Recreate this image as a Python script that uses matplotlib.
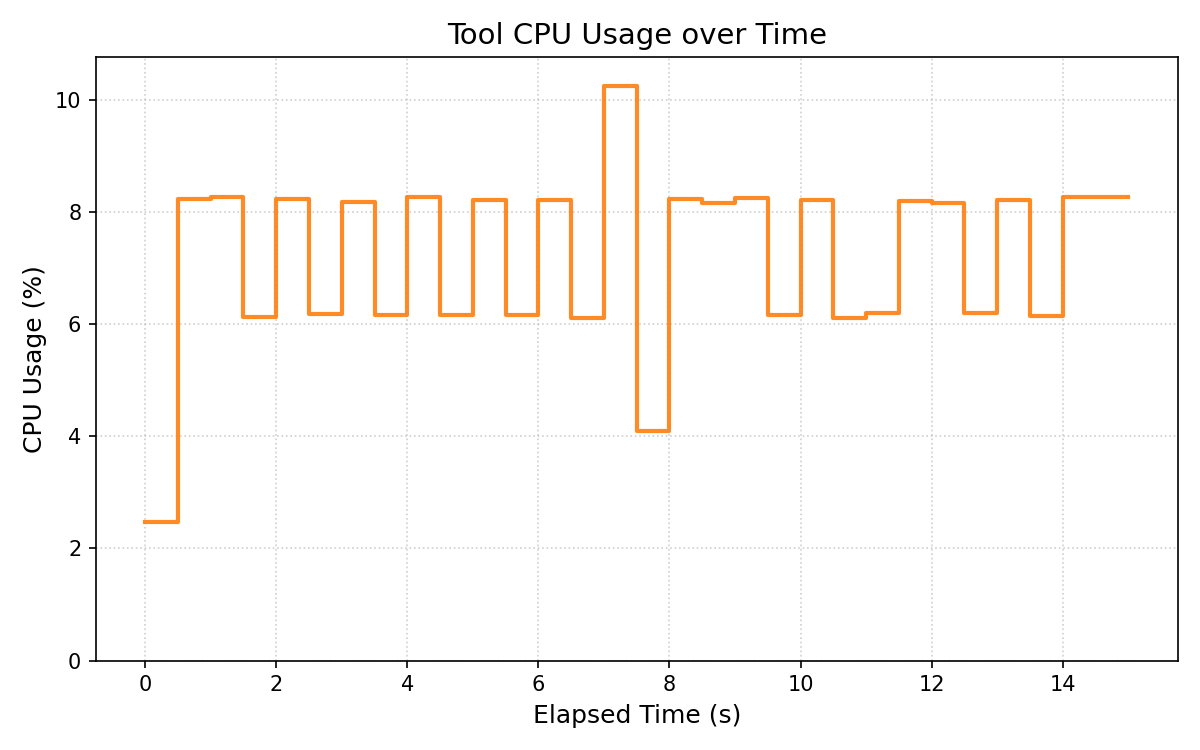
import matplotlib
matplotlib.use("Agg")
import matplotlib.pyplot as plt
import numpy as np

time_s = [0.0, 0.5, 1.0, 1.5, 2.0, 2.5, 3.0, 3.5, 4.0, 4.5, 5.0, 5.5, 6.0, 6.5,
          7.0, 7.5, 8.0, 8.5, 9.0, 9.5, 10.0, 10.5, 11.0, 11.5, 12.0, 12.5,
          13.0, 13.5, 14.0, 14.5, 15.0]
cpu_pct = [2.47, 8.23, 8.27, 6.13, 8.23, 6.18, 8.17, 6.16, 8.26, 6.16, 8.21,
           6.16, 8.21, 6.11, 10.25, 4.10, 8.23, 8.16, 8.25, 6.16, 8.21, 6.11,
           6.20, 8.19, 8.16, 6.20, 8.21, 6.15, 8.26, 8.26, 8.26]

fig, ax = plt.subplots(figsize=(8, 5), dpi=150)
ax.step(time_s, cpu_pct, where="post", color="tab:orange", alpha=0.9, linewidth=2)
ax.set_title("Tool CPU Usage over Time", fontsize=14)
ax.set_xlabel("Elapsed Time (s)", fontsize=12)
ax.set_ylabel("CPU Usage (%)", fontsize=12)
ax.set_ylim(0, max(cpu_pct) * 1.05)
ax.grid(True, linestyle=":", alpha=0.6)
fig.tight_layout()
fig.savefig("out.png", dpi=150)
